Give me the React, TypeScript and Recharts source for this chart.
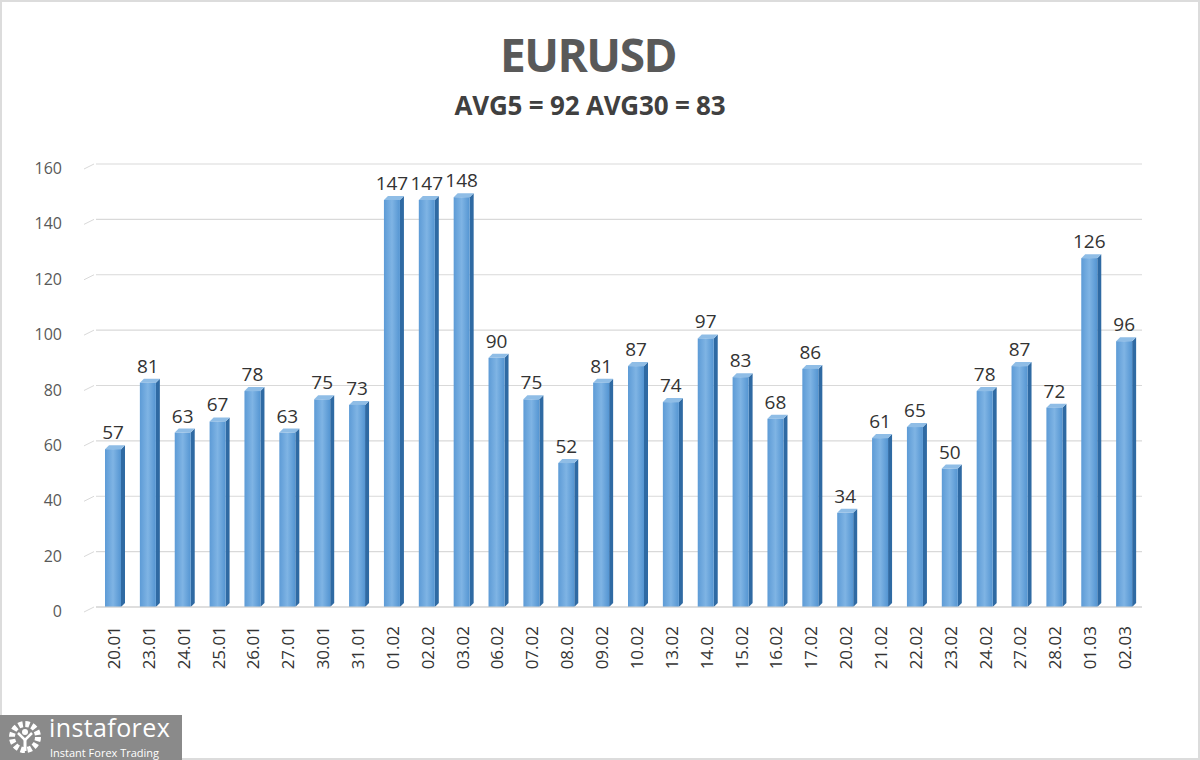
import { BarChart, Bar, XAxis, YAxis, CartesianGrid, LabelList } from "recharts";

const dates = [
  "20.01", "23.01", "24.01", "25.01", "26.01", "27.01", "30.01", "31.01", "01.02", "02.02",
  "03.02", "06.02", "07.02", "08.02", "09.02", "10.02", "13.02", "14.02", "15.02", "16.02",
  "17.02", "20.02", "21.02", "22.02", "23.02", "24.02", "27.02", "28.02", "01.03", "02.03",
];
const ranges = [
  57, 81, 63, 67, 78, 63, 75, 73, 147, 147,
  148, 90, 75, 52, 81, 87, 74, 97, 83, 68,
  86, 34, 61, 65, 50, 78, 87, 72, 126, 96,
];
const yTicks = [0, 20, 40, 60, 80, 100, 120, 140, 160];

const data = dates.map((d, i) => ({ date: d, value: ranges[i] }));

const FONT = "'Open Sans', 'Liberation Sans', sans-serif";

// 3D-looking column: front face, darker right side, light top cap
function Column(props: any) {
  const { x, y, width, height } = props;
  if (!height || height <= 0) return null;
  const d = 4;
  return (
    <g>
      <polygon
        points={`${x + width},${y} ${x + width + d},${y - d} ${x + width + d},${y + height - d} ${x + width},${y + height}`}
        fill="#2f6aa3"
      />
      <polygon
        points={`${x},${y} ${x + d},${y - d} ${x + width + d},${y - d} ${x + width},${y}`}
        fill="#8fbde6"
      />
      <rect x={x} y={y} width={width} height={height} fill="url(#colFront)" />
    </g>
  );
}

function XTick({ x, y, payload }: any) {
  return (
    <text
      x={x}
      y={y + 11}
      transform={`rotate(-90 ${x} ${y + 11})`}
      textAnchor="end"
      dominantBaseline="central"
      fill="#333333"
      fontSize={17}
      fontFamily={FONT}
    >
      {payload.value}
    </text>
  );
}

function YTick({ x, y, payload }: any) {
  return (
    <g>
      <line x1={x - 4} y1={y + 5} x2={x + 6} y2={y} stroke="#d9d9d9" />
      <text
        x={x - 26}
        y={y + 4}
        textAnchor="end"
        dominantBaseline="central"
        fill="#595959"
        fontSize={16}
        fontFamily={FONT}
      >
        {payload.value}
      </text>
    </g>
  );
}

function Gear() {
  return (
    <svg width={36} height={36} viewBox="0 0 36 36" style={{ position: "absolute", left: 7, top: 4 }}>
      <circle cx={18} cy={18} r={13} fill="none" stroke="#ffffff" strokeWidth={6} strokeDasharray="4.2 2.6" />
      <circle cx={18} cy={18} r={9} fill="#8a8a8a" />
      <circle cx={18} cy={13} r={3} fill="#ffffff" />
      <path d="M11 14 L18 21 L25 14" stroke="#ffffff" strokeWidth={2.5} fill="none" />
      <rect x={16.5} y={20} width={3} height={12} fill="#ffffff" />
    </svg>
  );
}

export default function App() {
  return (
    <div
      style={{
        position: "absolute",
        left: 0,
        top: 0,
        width: 1200,
        height: 760,
        background: "#ffffff",
        boxSizing: "border-box",
        border: "2px solid #dcdcdc",
      }}
    >
      <div
        style={{
          position: "absolute",
          top: 21,
          left: 0,
          width: 1172,
          textAlign: "center",
          fontFamily: FONT,
          fontWeight: 700,
          fontSize: 46,
          color: "#595959",
          letterSpacing: -1.5,
        }}
      >
        EURUSD
      </div>
      <div
        style={{
          position: "absolute",
          top: 85,
          left: 0,
          width: 1176,
          textAlign: "center",
          fontFamily: FONT,
          fontWeight: 700,
          fontSize: 26,
          color: "#404040",
          letterSpacing: -0.2,
        }}
      >
        AVG5 = 92 AVG30 = 83
      </div>
      <div style={{ position: "absolute", left: -2, top: -2 }}>
        <BarChart
          width={1200}
          height={760}
          data={data}
          margin={{ top: 164, right: 58, bottom: 63, left: 36 }}
          barSize={16}
        >
          <defs>
            <linearGradient id="colFront" x1="0" y1="0" x2="1" y2="0">
              <stop offset="0%" stopColor="#5d9bd6" />
              <stop offset="50%" stopColor="#7fb4e4" />
              <stop offset="100%" stopColor="#5495d2" />
            </linearGradient>
          </defs>
          <CartesianGrid vertical={false} stroke="#d9d9d9" strokeWidth={1.2} />
          <XAxis
            dataKey="date"
            interval={0}
            height={90}
            axisLine={{ stroke: "#d0d0d0" }}
            tickLine={false}
            tick={<XTick />}
          />
          <YAxis
            domain={[0, 160]}
            ticks={yTicks}
            width={60}
            axisLine={false}
            tickLine={false}
            tick={<YTick />}
          />
          <Bar dataKey="value" shape={<Column />} isAnimationActive={false}>
            <LabelList
              dataKey="value"
              position="top"
              offset={10}
              fill="#333333"
              fontSize={19}
              fontFamily={FONT}
            />
          </Bar>
        </BarChart>
      </div>
      <div
        style={{
          position: "absolute",
          left: -2,
          top: 713,
          width: 182,
          height: 45,
          background: "#8a8a8a",
          color: "#ffffff",
          fontFamily: FONT,
        }}
      >
        <Gear />
        <div style={{ position: "absolute", left: 49, top: -2, fontSize: 25, lineHeight: "28px", letterSpacing: 0.4 }}>
          instaforex
        </div>
        <div style={{ position: "absolute", left: 50, top: 31, fontSize: 11, lineHeight: "13px" }}>
          Instant Forex Trading
        </div>
      </div>
    </div>
  );
}
